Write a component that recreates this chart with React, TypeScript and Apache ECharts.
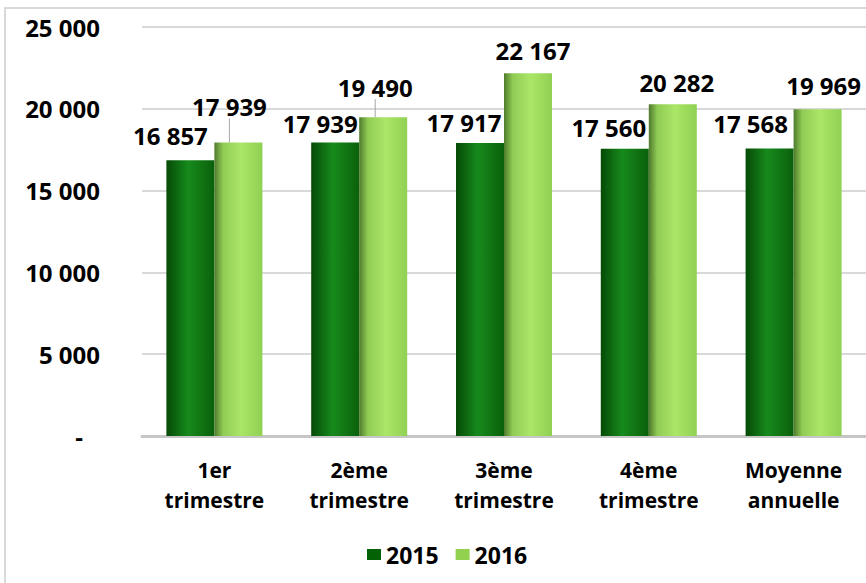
import React, { useEffect, useRef } from "react";
import * as echarts from "echarts";

const categories = ["1er\ntrimestre", "2ème\ntrimestre", "3ème\ntrimestre", "4ème\ntrimestre", "Moyenne\nannuelle"];
const values2015 = [16857, 17939, 17917, 17560, 17568];
const values2016 = [17939, 19490, 22167, 20282, 19969];
const yTicks = [0, 5000, 10000, 15000, 20000, 25000];

// label placement tweaks (style, not data)
const dx2015 = [-20, -15, -16, -16, -19];
const dy2015 = [-8, -2, -3, -4, -8];
const dx2016 = [-9, -8, 5, 4, 6];
const dy2016 = [-19, -13, -6, -5, -7];
const leader2016 = [true, true, false, false, false];

const fmt = (v: number) => {
  const s = String(Math.round(v));
  return s.replace(/\B(?=(\d{3})+(?!\d))/g, " ");
};

const FONT = "'Open Sans', 'DejaVu Sans', sans-serif";

export default function App() {
  const ref = useRef<HTMLDivElement>(null);
  useEffect(() => {
    if (!ref.current) return;
    const chart = echarts.init(ref.current, undefined, { renderer: "svg" });
    const grad2015 = new echarts.graphic.LinearGradient(0, 0, 1, 0, [
      { offset: 0, color: "#054a06" },
      { offset: 0.45, color: "#178a1c" },
      { offset: 1, color: "#0a600b" },
    ]);
    const grad2016 = new echarts.graphic.LinearGradient(0, 0, 1, 0, [
      { offset: 0, color: "#4f7a2c" },
      { offset: 0.18, color: "#90cc55" },
      { offset: 0.55, color: "#abe668" },
      { offset: 1, color: "#8fd052" },
    ]);
    const labelBase = {
      show: true,
      position: "top" as const,
      distance: 5,
      fontFamily: FONT,
      fontWeight: "bold" as const,
      fontSize: 24,
      color: "#000",
      formatter: (p: any) => fmt(p.value),
    };
    chart.setOption({
      animation: false,
      backgroundColor: "#fff",
      graphic: [
        {
          type: "rect",
          shape: { x: 5, y: 8, width: 900, height: 600 },
          style: { fill: "none", stroke: "#d9d9d9", lineWidth: 2 },
          silent: true,
          z: -10,
        },
      ],
      grid: { left: 142, right: -2, top: 27, bottom: 147, containLabel: false },
      legend: {
        left: 362,
        top: 538,
        itemWidth: 14,
        itemHeight: 11,
        itemGap: 17,
        icon: "rect",
        textStyle: { fontFamily: FONT, fontWeight: "bold", fontSize: 23, color: "#000" },
        data: [
          { name: "2015", itemStyle: { color: "#036203" } },
          { name: "2016", itemStyle: { color: "#92d050" } },
        ],
      },
      xAxis: {
        type: "category",
        data: categories,
        axisLine: { show: true, lineStyle: { color: "#c6c6c6", width: 3 } },
        axisTick: { show: false },
        axisLabel: {
          fontFamily: FONT,
          fontWeight: "bold",
          fontSize: 21,
          color: "#000",
          lineHeight: 30,
          margin: 19,
          interval: 0,
        },
      },
      yAxis: {
        type: "value",
        min: yTicks[0],
        max: yTicks[yTicks.length - 1],
        interval: 5000,
        axisLine: { show: false },
        axisTick: { show: false },
        splitLine: { lineStyle: { color: "#d9d9d9", width: 2 } },
        axisLabel: {
          margin: 42,
          fontFamily: FONT,
          fontWeight: "bold",
          fontSize: 24,
          color: "#000",
          formatter: (v: number) => (v === 0 ? "{d|-}" : fmt(v)),
          rich: {
            d: { fontFamily: FONT, fontWeight: "bold", fontSize: 24, color: "#000", padding: [0, 17, 0, 0] },
          },
        },
      },
      series: [
        {
          name: "2015",
          type: "bar",
          barWidth: 48,
          barGap: "0%",
          itemStyle: { color: grad2015 },
          label: labelBase,
          labelLayout: (p: any) => ({ dx: dx2015[p.dataIndex], dy: dy2015[p.dataIndex] }),
          data: values2015.map((v) => ({ value: v })),
        },
        {
          name: "2016",
          type: "bar",
          barWidth: 48,
          barGap: "0%",
          itemStyle: { color: grad2016 },
          label: labelBase,
          labelLayout: (p: any) => ({ dx: dx2016[p.dataIndex], dy: dy2016[p.dataIndex] }),
          labelLine: { show: false },
          data: values2016.map((v, i) => ({
            value: v,
            labelLine: leader2016[i]
              ? { show: true, lineStyle: { color: "#a6a6a6", width: 1 } }
              : { show: false },
          })),
        },
      ],
    });
    return () => chart.dispose();
  }, []);
  return (
    <div
      ref={ref}
      style={{ position: "absolute", left: 0, top: 0, width: 866, height: 583 }}
    />
  );
}
